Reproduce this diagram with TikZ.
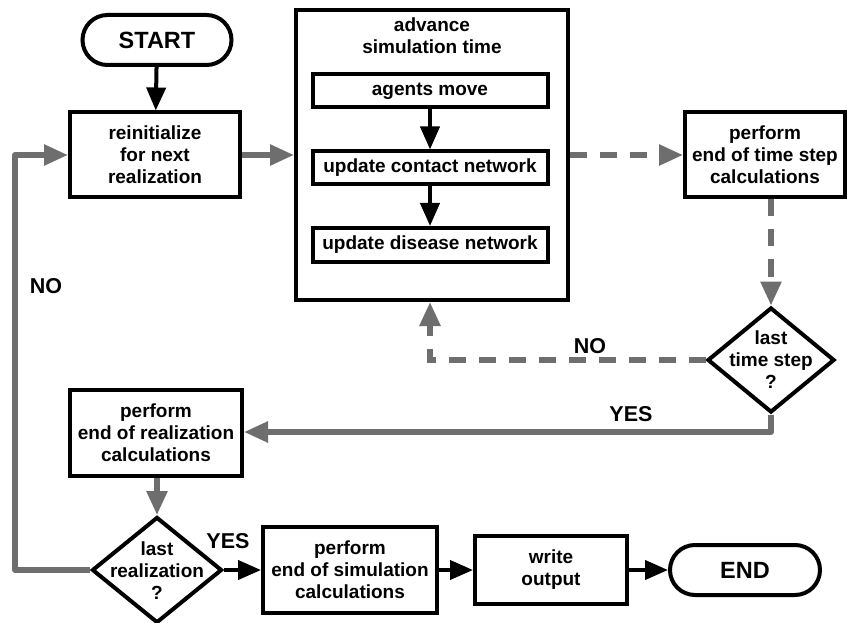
\documentclass[tikz,border=0pt]{standalone}
\usepackage{fontspec}
\setmainfont{Liberation Sans}
\usetikzlibrary{arrows.meta,shapes.geometric,shapes.misc}
\definecolor{flowgray}{HTML}{6E6E6E}
\begin{document}
\begin{tikzpicture}[x=1pt,y=-1pt,
  every node/.style={font=\bfseries\fontsize{19}{22}\selectfont},
  box/.style={draw=black,line width=4pt,rectangle,align=center,inner sep=0pt},
  term/.style={draw=black,line width=4pt,rounded rectangle,inner sep=0pt,font=\bfseries\fontsize{23.5}{26}\selectfont},
  dia/.style={draw=black,line width=4pt,diamond,inner sep=0pt},
  blk/.style={line width=4pt,draw=black,-{Triangle[length=23pt,width=19pt]}},
  gry/.style={line width=5.5pt,draw=flowgray,-{Triangle[length=24pt,width=20pt]}},
  gdash/.style={gry,dash pattern=on 17pt off 13pt},
  lbl/.style={font=\bfseries\fontsize{21.5}{24}\selectfont}
]
\useasboundingbox (0,0) rectangle (847,623);
\fill[white] (0,0) rectangle (847,623);

\node[term,minimum width=149pt,minimum height=50pt] (start) at (157,40) {START};
\node[box,minimum width=170pt,minimum height=85pt] (reinit) at (155,155) {reinitialize\\for next\\realization};
\node[box,minimum width=272pt,minimum height=290pt] (big) at (432,155) {};
\node[align=center] (title) at (432,36) {advance\\simulation time};
\node[box,minimum width=235pt,minimum height=33pt] (agents) at (430,91) {agents move};
\node[box,minimum width=235pt,minimum height=33pt] (contact) at (430,168) {update contact network};
\node[box,minimum width=235pt,minimum height=34pt] (disease) at (430,245) {update disease network};
\node[box,minimum width=160pt,minimum height=85pt] (perfts) at (765,155) {perform\\end of time step\\calculations};
\node[dia,minimum width=127pt,minimum height=105pt] (tsd) at (771,360) {};
\node[align=center] (tsdtext) at (771,360) {last\\time step\\?};
\node[box,minimum width=172pt,minimum height=86pt] (perfreal) at (156,433) {perform\\end of realization\\calculations};
\node[dia,minimum width=130pt,minimum height=106pt] (rd) at (157,570) {};
\node[align=center] (rdtext) at (157,571) {last\\realization\\?};
\node[box,minimum width=174pt,minimum height=86pt] (perfsim) at (350,570) {perform\\end of simulation\\calculations};
\node[box,minimum width=152pt,minimum height=68pt] (write) at (551,570) {write\\output};
\node[term,minimum width=150pt,minimum height=50pt] (end) at (745,570) {END};

\coordinate (noup) at (430,360);
\coordinate (yesc) at (771,432);
\coordinate (nol1) at (15,570);
\coordinate (nol2) at (15,155);

\draw[blk] (start) -- (reinit);
\draw[blk] (agents) -- (contact);
\draw[blk] (contact) -- (disease);
\draw[gry] (reinit) -- (big.west |- reinit);
\draw[gdash] (big.east |- perfts) -- (perfts.west);
\draw[gdash] (perfts.south -| tsd.north) -- (tsd.north);
\draw[gdash] (tsd.west) -- (noup) -- (big.south -| noup);
\draw[gry,line join=round] (tsd.south) -- (yesc) -- (perfreal.east |- yesc);
\draw[gry] (perfreal.south -| rd.north) -- (rd.north);
\draw[blk] (rd.east) -- (perfsim.west |- rd.east);
\draw[blk] (perfsim.east |- write) -- (write.west);
\draw[blk] (write.east) -- (end.west);
\draw[gry,line join=round] (rd.west) -- (nol1) -- (nol2) -- (reinit.west);

\node[lbl] (no1) at (590,346) {NO};
\node[lbl] (yes1) at (631,414) {YES};
\node[lbl] (yes2) at (228,541) {YES};
\node[lbl] (no2) at (46,286) {NO};
\end{tikzpicture}
\end{document}
